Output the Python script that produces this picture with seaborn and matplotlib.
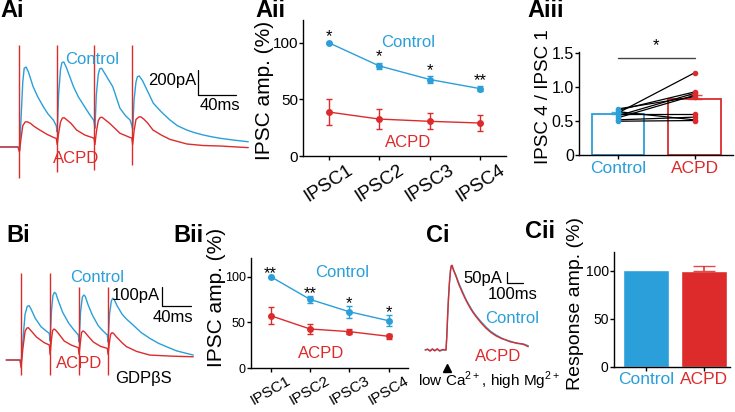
import numpy as np
import pandas as pd
import matplotlib
matplotlib.use('Agg')
import matplotlib.pyplot as plt
import seaborn as sns

BLUE = '#2a9fd9'
RED = '#dd2b2c'

# ---- Ai example traces (ms, pA), stimuli every 40 ms
ai_ctrl_t = [-20, -1, 0.5, 2, 4, 5.5, 7.5, 10, 15, 20, 25.8, 31, 36.4, 39.5,
             40.5, 42, 44, 45.5, 47.5, 50, 57.8, 63, 68.4, 74, 79.5,
             80.5, 82, 84, 85.5, 87.5, 90, 99.4, 107, 113, 117.7, 119.5,
             120.5, 122, 124, 125.5, 127.5, 131, 142.4, 151, 160, 168, 177.8, 186, 195.4, 204, 213, 228, 243]
ai_ctrl_i = [0, 0, -30, 200, 520, 630, 640, 600, 482, 400, 322, 262, 216, 170,
             120, 420, 620, 675, 680, 640, 482, 400, 336, 270, 210,
             150, 420, 580, 625, 630, 600, 482, 310, 250, 216, 175,
             140, 380, 520, 562, 568, 530, 350, 280, 216, 170, 136, 115, 96, 82, 70, 55, 42]
ai_acpd_t = [-20, -1, 0.5, 2, 4, 6.5, 8.5, 12, 16, 22, 30, 38, 39.5,
             40.5, 42, 44, 46, 48, 51, 55, 61, 70, 79, 79.5,
             80.5, 82, 84, 86, 88, 91, 96, 107, 118, 119.5,
             120.5, 122, 124, 127, 129, 132, 136, 142, 151, 160, 178, 195, 213, 243]
ai_acpd_i = [0, 0, -40, 60, 170, 200, 202, 190, 165, 136, 100, 72, 70,
             20, 110, 200, 232, 234, 215, 190, 136, 95, 72, 70,
             20, 120, 210, 236, 238, 220, 190, 110, 75, 72,
             20, 130, 220, 240, 242, 225, 195, 136, 95, 61, 24, 12, 8, -5]
ai_stim_t = [0, 40, 80, 120]
ai_stim_top = [820, 820, 820, 820]
ai_stim_bot = [-250, -200, -180, -145]

# ---- Bi example traces (GDPbS)
bi_ctrl_t = [-20, -1, 0.5, 3, 6, 9, 11.5, 14, 20, 28, 36, 39.5,
             40.5, 42.5, 44.5, 46.5, 48.5, 52, 58, 66, 72, 79.5,
             80.5, 82.5, 85, 87, 89, 93, 99, 107, 113, 119.5,
             120.5, 122.5, 125, 127, 129, 133, 140, 146, 155, 166, 178, 190, 201, 215, 238]
bi_ctrl_i = [0, 0, -20, 100, 240, 282, 286, 270, 220, 175, 150, 140,
             100, 260, 340, 356, 350, 310, 250, 195, 165, 131,
             95, 250, 330, 342, 335, 290, 235, 180, 155, 131,
             95, 240, 310, 325, 318, 285, 240, 215, 184, 145, 114, 88, 70, 48, 26]
bi_acpd_t = [-20, -1, 0.5, 3, 6, 8.5, 10.5, 14, 22, 32, 39.5,
             40.5, 42.5, 44, 46, 48, 52, 60, 70, 79.5,
             80.5, 82.5, 84, 86, 88, 92, 100, 110, 119.5,
             120.5, 122.5, 124, 126, 128, 132, 140, 146, 160, 178, 210, 238]
bi_acpd_i = [0, 0, -40, 60, 150, 168, 170, 155, 120, 92, 79,
             30, 110, 155, 163, 158, 140, 100, 78, 65,
             30, 100, 145, 153, 148, 130, 95, 72, 61,
             30, 95, 135, 144, 140, 122, 90, 70, 45, 26, 20, 17]
bi_stim_t = [0, 40, 80, 120]
bi_stim_top = [456, 456, 386, 386]
bi_stim_bot = [-79, -79, -79, -79]

# ---- Ci example traces (low Ca, high Mg)
ci_t = [-130, -115, -100, -85, -70, -55, -40, -20, -1, 0, 5, 10, 15, 21, 28, 33, 38, 46, 63, 80,
        104, 125, 146, 167, 188, 220, 250, 280, 313, 350, 380, 400, 440, 483, 514]
ci_acpd_i = [0, 4, -5, 3, -4, 5, -3, 2, 0, 0, 60, 142, 215, 285, 340, 360, 362, 342, 313, 280,
             242, 212, 185, 162, 142, 115, 93, 75, 60, 48, 42, 35, 30, 24, 14]
ci_ctrl_i = [0, 2, -3, 5, -2, 3, -5, 0, 0, 0, 55, 140, 212, 280, 338, 357, 360, 345, 318, 286,
             248, 216, 190, 166, 146, 120, 98, 79, 64, 50, 40, 38, 28, 26, 18]

# ---- Aii / Bii summary (% of IPSC1)
ipsc_labels = ['IPSC1', 'IPSC2', 'IPSC3', 'IPSC4']
aii_ctrl = [100, 79.5, 67.5, 59.4]
aii_ctrl_sem = [0, 3, 3, 2]
aii_acpd = [38.8, 32.6, 30.6, 29.1]
aii_acpd_sem = [11.8, 8.6, 7, 6.8]
aii_stars = ['*', '*', '*', '**']

bii_ctrl = [100, 75.2, 61.7, 51.9]
bii_ctrl_sem = [0, 3.6, 6.3, 6]
bii_acpd = [57.4, 42.9, 40, 34.9]
bii_acpd_sem = [9, 5.4, 2.5, 3]
bii_stars = ['**', '**', '*', '*']

# ---- Aiii paired ratios
groups = ['Control', 'ACPD']
aiii_ctrl = [0.62, 0.66, 0.58, 0.55, 0.68, 0.60, 0.52, 0.64, 0.50]
aiii_acpd = [1.21, 0.93, 0.91, 0.88, 0.86, 0.60, 0.56, 0.52, 0.51]
aiii_mean = [0.60, 0.82]
aiii_sem = [0.03, 0.07]

# ---- Cii response amplitude
cii_mean = [101, 100]
cii_sem = [0, 5.5]

sns.set_style('ticks')
plt.rcParams['font.family'] = ['Liberation Sans', 'DejaVu Sans']
plt.rcParams['mathtext.fontset'] = 'custom'
plt.rcParams['mathtext.rm'] = 'Liberation Sans'
plt.rcParams['axes.linewidth'] = 1.0
plt.rcParams['axes.edgecolor'] = 'black'
plt.rcParams['text.color'] = 'black'
plt.rcParams['xtick.color'] = 'black'
plt.rcParams['ytick.color'] = 'black'
plt.rcParams['axes.labelcolor'] = 'black'

W, H = 735, 412
fig = plt.figure(figsize=(7.35, 4.12), dpi=100)


def px_axes(x0, y0, x1, y1):
    return fig.add_axes([x0 / W, 1 - y1 / H, (x1 - x0) / W, (y1 - y0) / H])


def px_text(x, y, s, **kw):
    fig.text(x / W, 1 - y / H, s, **kw)


def draw_trace(ax, t, i, color):
    df = pd.DataFrame({'t': t, 'i': i})
    sns.lineplot(data=df, x='t', y='i', color=color, lw=1.0, sort=False,
                 estimator=None, ax=ax)


def scale_bar(ax, x, y, dx, dy):
    ax.plot([x, x, x + dx], [y + dy, y, y], color='black', lw=0.9)


def bar_errors(ax, means, sems, cap):
    for k, (m, s, col) in enumerate(zip(means, sems, [BLUE, RED])):
        if s > 0:
            ax.errorbar([k], [m], yerr=[[0], [s]], fmt='none', ecolor=col,
                        capsize=cap, elinewidth=1.3, alpha=0.85)


def style_axes(ax, ysize, xsize):
    sns.despine(ax=ax)
    ax.tick_params(direction='out', length=3, width=1, color='black', pad=0.8)
    ax.tick_params(axis='y', labelsize=ysize)
    ax.tick_params(axis='x', labelsize=xsize)
    ax.set_xlabel('')
    ax.set_ylabel('')


# ================= Ai
ax = px_axes(0, 30, 250, 190)
draw_trace(ax, ai_ctrl_t, ai_ctrl_i, BLUE)
draw_trace(ax, ai_acpd_t, ai_acpd_i, RED)
ax.vlines(ai_stim_t, ai_stim_bot, ai_stim_top, color=RED, lw=1.0)
scale_bar(ax, 190, 416, 40, 200)
ax.set_xlim(-20.14, 244.86)
ax.set_ylim(-344, 936)
ax.set_axis_off()
px_text(65, 64, 'Control', color=BLUE, fontsize=12)
px_text(53, 163, 'ACPD', color=RED, fontsize=12)
px_text(196, 85, '200pA', ha='right', fontsize=12)
px_text(200, 110, '40ms', fontsize=12)

# ================= Aii
ax = px_axes(303.3, 20, 505.7, 156)
pos = np.arange(len(ipsc_labels))
for vals, sem, col in [(aii_ctrl, aii_ctrl_sem, BLUE), (aii_acpd, aii_acpd_sem, RED)]:
    sns.lineplot(x=pos, y=vals, color=col, marker='o', markersize=5,
                 markeredgewidth=0, lw=1.0, ax=ax)
    ax.errorbar(pos, vals, yerr=sem, fmt='none', ecolor=col, capsize=2.5, elinewidth=1)
for p, v, s, st in zip(pos, aii_ctrl, aii_ctrl_sem, aii_stars):
    ax.text(p, v + s + 1, st, ha='center', va='baseline', fontsize=12)
ax.text(1.04, 96.5, 'Control', color=BLUE, fontsize=12)
ax.text(1.11, 7.6, 'ACPD', color=RED, fontsize=12)
ax.set_xlim(-0.5, 3.5)
ax.set_ylim(0, 120)
ax.set_yticks([0, 50, 100])
ax.set_xticks(pos)
ax.set_xticklabels(ipsc_labels, rotation=33, ha='center')
style_axes(ax, 11, 13.5)
px_text(265, 90, 'IPSC amp. (%)', rotation=90, ha='center', va='center', fontsize=15)

# ================= Aiii
ax = px_axes(579.3, 51.7, 733, 155.3)
sns.barplot(x=groups, y=aiii_mean, hue=groups, palette=[BLUE, RED], fill=False,
            width=0.68, errorbar=None, legend=False, linewidth=1.3, ax=ax)
bar_errors(ax, aiii_mean, aiii_sem, 5)
for c, a in zip(aiii_ctrl, aiii_acpd):
    ax.plot([0, 1], [c, a], color='black', lw=0.9, zorder=3)
sns.scatterplot(x=[0] * len(aiii_ctrl), y=aiii_ctrl, color=BLUE, s=16,
                linewidth=0, zorder=4, ax=ax)
sns.scatterplot(x=[1] * len(aiii_acpd), y=aiii_acpd, color=RED, s=16,
                linewidth=0, zorder=4, ax=ax)
ax.plot([0, 1], [1.43, 1.43], color='#444444', lw=1.0, clip_on=False)
ax.text(0.5, 1.54, '*', ha='center', va='baseline', fontsize=12)
ax.set_xlim(-0.5, 1.5)
ax.set_ylim(0, 1.52)
ax.set_yticks([0, 0.5, 1.0, 1.5])
ax.set_yticklabels(['0', '0.5', '1.0', '1.5'])
ax.set_xticks([0, 1])
ax.set_xticklabels(groups)
style_axes(ax, 11.5, 12.5)
for lab, col in zip(ax.get_xticklabels(), [BLUE, RED]):
    lab.set_color(col)
px_text(543, 97, 'IPSC 4 / IPSC 1', rotation=90, ha='center', va='center', fontsize=13.5)

# ================= Bi
ax = px_axes(0, 262, 215, 400)
draw_trace(ax, bi_ctrl_t, bi_ctrl_i, BLUE)
draw_trace(ax, bi_acpd_t, bi_acpd_i, RED)
ax.vlines(bi_stim_t, bi_stim_bot, bi_stim_top, color=RED, lw=1.0)
scale_bar(ax, 194.5, 286, 40, 100)
ax.set_xlim(-28.55, 268)
ax.set_ylim(-210.4, 515.5)
ax.set_axis_off()
px_text(70, 282, 'Control', color=BLUE, fontsize=12)
px_text(160, 300, '100pA', ha='right', fontsize=12)
px_text(153, 321.7, '40ms', fontsize=12)
px_text(56, 368.3, 'ACPD', color=RED, fontsize=12)
px_text(115, 383.3, 'GDP\u03b2S', fontsize=12)

# ================= Bii
ax = px_axes(251, 258.3, 408.3, 368.3)
for vals, sem, col in [(bii_ctrl, bii_ctrl_sem, BLUE), (bii_acpd, bii_acpd_sem, RED)]:
    sns.lineplot(x=pos, y=vals, color=col, marker='o', markersize=5,
                 markeredgewidth=0, lw=1.0, ax=ax)
    ax.errorbar(pos, vals, yerr=sem, fmt='none', ecolor=col, capsize=2.5, elinewidth=1)
for p, v, s, st in zip(pos, bii_ctrl, bii_ctrl_sem, bii_stars):
    ax.text(p, v + s - 2, st, ha='center', va='baseline', fontsize=12)
ax.text(1.13, 99.2, 'Control', color=BLUE, fontsize=12)
ax.text(0.70, 11.6, 'ACPD', color=RED, fontsize=12)
ax.set_xlim(-0.5, 3.5)
ax.set_ylim(0, 120)
ax.set_yticks([0, 50, 100])
ax.set_xticks(pos)
ax.set_xticklabels(ipsc_labels, rotation=30, ha='center')
style_axes(ax, 9, 11)
px_text(216, 297, 'IPSC amp. (%)', rotation=90, ha='center', va='center', fontsize=15)

# ================= Ci
ax = px_axes(410, 250, 560, 390)
draw_trace(ax, ci_t, ci_ctrl_i, BLUE)
draw_trace(ax, ci_t, ci_acpd_i, RED)
scale_bar(ax, 381, 285, 100, 50)
ax.plot([4], [-77], marker='^', color='black', markersize=6, clip_on=False)
ax.set_xlim(-225, 712.5)
ax.set_ylim(-171, 427)
ax.set_axis_off()
px_text(463, 283, '50pA', fontsize=12)
px_text(488, 299, '100ms', fontsize=12)
px_text(485, 323, 'Control', color=BLUE, fontsize=12)
px_text(475, 361, 'ACPD', color=RED, fontsize=12)
px_text(418, 386, 'low Ca$^{2+}$, high Mg$^{2+}$', fontsize=11)

# ================= Cii
ax = px_axes(614, 251.7, 730, 366.7)
sns.barplot(x=groups, y=cii_mean, hue=groups, palette=[BLUE, RED], saturation=1,
            width=0.78, errorbar=None, legend=False, ax=ax)
bar_errors(ax, cii_mean, cii_sem, 8)
ax.set_xlim(-0.55, 1.45)
ax.set_ylim(0, 120)
ax.set_yticks([0, 50, 100])
style_axes(ax, 10, 12.5)
for lab, col in zip(ax.get_xticklabels(), [BLUE, RED]):
    lab.set_color(col)
px_text(575, 303, 'Response amp. (%)', rotation=90, ha='center', va='center', fontsize=14)

# panel labels
for lab, x, y in [('Ai', 0, 16.7), ('Aii', 255, 16.7), ('Aiii', 527, 16.7),
                  ('Bi', 6.7, 241.7), ('Bii', 173, 241.7), ('Ci', 426, 241.7),
                  ('Cii', 525, 238.3)]:
    px_text(x, y, lab, fontsize=17, fontweight='bold', va='baseline')

fig.savefig('out.png', dpi=100)
